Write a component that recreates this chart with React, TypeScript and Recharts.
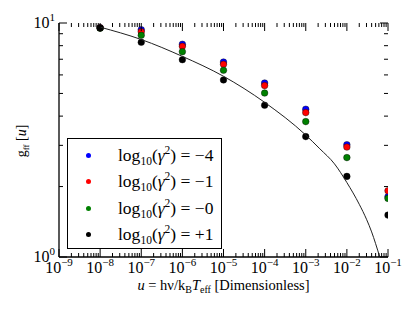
import { ComposedChart, Scatter, XAxis, YAxis, Legend } from "recharts"

// frequencies where the gaunt factor was sampled
const U = [1e-8, 1e-7, 1e-6, 1e-5, 1e-4, 1e-3, 1e-2, 1e-1]

// g_ff for each log10(gamma^2)
const gMinus4 = [9.55, 9.36, 8.11, 6.81, 5.54, 4.28, 3.02, 1.81]
const gMinus1 = [9.53, 9.18, 7.95, 6.66, 5.4, 4.14, 2.95, 1.92]
const gZero = [9.5, 8.86, 7.54, 6.28, 5.02, 3.79, 2.66, 1.78]
const gPlus1 = [9.52, 8.27, 6.97, 5.71, 4.45, 3.27, 2.21, 1.51]

// solid reference curve
const curveU = [1e-8, 1e-7, 1e-6, 1e-5, 1e-4, 1e-3, 2.2e-3, 5e-3, 1e-2, 2e-2, 3e-2, 4e-2, 5e-2, 5.6e-2, 6.3e-2]
const curveG = [9.6, 8.5, 7.2, 5.92, 4.58, 3.32, 2.9, 2.5, 2.08, 1.68, 1.45, 1.28, 1.14, 1.07, 1.0]

const xMajor = [1e-9, 1e-8, 1e-7, 1e-6, 1e-5, 1e-4, 1e-3, 1e-2, 1e-1]
const xExp = ["−9", "−8", "−7", "−6", "−5", "−4", "−3", "−2", "−1"]
const yTicks = [1, 2, 3, 4, 5, 6, 7, 8, 9, 10]

const seriesNames = ["−4", "−1", "−0", "+1"]
const seriesColors = ["#0000ff", "#ff0000", "#008000", "#000000"]
const seriesValues = [gMinus4, gMinus1, gZero, gPlus1]

const xTicks = [
  ...xMajor,
  ...xMajor.slice(0, -1).flatMap((d) => [2, 3, 4, 5, 6, 7, 8, 9].map((m) => d * m)),
]

const W = 415
const H = 312
const TOP = 23
const BOTTOM = 257
const LEFT = 59
const RIGHT = 388
const FONT = "'Liberation Serif', 'DejaVu Serif', serif"

const toPoints = (xs: number[], ys: number[]) => xs.map((u, i) => ({ u, g: ys[i] }))

function XTick(props: any) {
  const { x, payload } = props
  const idx = xMajor.indexOf(payload.value)
  const len = idx >= 0 ? 8 : 4
  return (
    <g>
      <line x1={x} x2={x} y1={BOTTOM} y2={BOTTOM - len} stroke="#000" strokeWidth={1} />
      <line x1={x} x2={x} y1={TOP} y2={TOP + len} stroke="#000" strokeWidth={1} />
      {idx >= 0 && (
        <text x={x} y={273} textAnchor="middle" fontFamily={FONT} fontSize={16} fill="#000">
          10
          <tspan dy={-7} fontSize={11}>
            {xExp[idx]}
          </tspan>
        </text>
      )}
    </g>
  )
}

function YTick(props: any) {
  const { y, payload } = props
  const v = payload.value
  const major = v === 1 || v === 10
  const len = major ? 8 : 4
  return (
    <g>
      <line x1={LEFT} x2={LEFT + len} y1={y} y2={y} stroke="#000" strokeWidth={1} />
      <line x1={RIGHT} x2={RIGHT - len} y1={y} y2={y} stroke="#000" strokeWidth={1} />
      {major && (
        <text x={55} y={y + 5} textAnchor="end" fontFamily={FONT} fontSize={16} fill="#000">
          10
          <tspan dy={-7} fontSize={11}>
            {v === 10 ? "1" : "0"}
          </tspan>
        </text>
      )}
    </g>
  )
}

function XLabel() {
  return (
    <text x={(LEFT + RIGHT) / 2} y={290} textAnchor="middle" fontFamily={FONT} fontSize={14.5} fill="#000">
      <tspan fontStyle="italic">u</tspan>
      <tspan> = hν/k</tspan>
      <tspan fontSize={10} dy={3}>B</tspan>
      <tspan fontStyle="italic" dy={-3}>T</tspan>
      <tspan fontSize={10} dy={3}>eff</tspan>
      <tspan dy={-3}> [Dimensionless]</tspan>
    </text>
  )
}

function YLabel() {
  return (
    <g>
      <defs>
        <clipPath id="plot-clip">
          <rect x={LEFT} y={TOP} width={RIGHT - LEFT} height={BOTTOM - TOP} />
        </clipPath>
      </defs>
      <text
        x={0}
        y={0}
        transform="translate(26,141) rotate(-90)"
        textAnchor="middle"
        fontFamily={FONT}
        fontSize={14}
        fill="#000"
      >
        <tspan>g</tspan>
        <tspan fontSize={9} dy={3}>ff</tspan>
        <tspan dy={-3}> [</tspan>
        <tspan fontStyle="italic">u</tspan>
        <tspan>]</tspan>
      </text>
    </g>
  )
}

function LegendBox() {
  return (
    <div
      style={{
        width: 155,
        height: 111,
        boxSizing: "border-box",
        border: "1px solid #000",
        background: "#fff",
        fontFamily: FONT,
        fontSize: 17.5,
        color: "#000",
        paddingTop: 3,
      }}
    >
      {seriesNames.map((n, i) => (
        <div key={n} style={{ display: "flex", alignItems: "center", height: 26.5 }}>
          <span
            style={{
              display: "inline-block",
              width: 5,
              height: 5,
              borderRadius: "50%",
              background: seriesColors[i],
              marginLeft: 18,
              marginRight: 27,
            }}
          />
          <span style={{ whiteSpace: "nowrap", lineHeight: "20px" }}>
            log<sub style={{ fontSize: 11.5, verticalAlign: -4 }}>10</sub>(<i>γ</i>
            <sup style={{ fontSize: 11.5, verticalAlign: 7 }}>2</sup>) = {n}
          </span>
        </div>
      ))}
    </div>
  )
}

const dot = (color: string) => (p: any) =>
  (
    <circle
      cx={p.cx}
      cy={p.cy}
      r={3.3}
      fill={color}
      stroke="#000"
      strokeWidth={0.4}
      clipPath="url(#plot-clip)"
    />
  )

export default function App() {
  return (
    <div style={{ position: "absolute", left: 0, top: 0, width: W, height: H, background: "#fff" }}>
      <ComposedChart width={W} height={H} margin={{ top: TOP, right: W - RIGHT, bottom: 0, left: 0 }}>
        <XAxis
          dataKey="u"
          type="number"
          scale="log"
          domain={[1e-9, 1e-1]}
          allowDataOverflow
          ticks={xTicks}
          interval={0}
          height={H - BOTTOM}
          tickLine={false}
          tick={<XTick />}
          axisLine={{ stroke: "#000", strokeWidth: 1.3 }}
          label={<XLabel />}
        />
        <XAxis
          xAxisId="top"
          orientation="top"
          type="number"
          scale="log"
          domain={[1e-9, 1e-1]}
          height={0}
          tick={false}
          tickLine={false}
          axisLine={{ stroke: "#000", strokeWidth: 1.3 }}
        />
        <YAxis
          dataKey="g"
          type="number"
          scale="log"
          domain={[1, 10]}
          allowDataOverflow
          ticks={yTicks}
          interval={0}
          width={LEFT}
          tickLine={false}
          tick={<YTick />}
          axisLine={{ stroke: "#000", strokeWidth: 1.3 }}
          label={<YLabel />}
        />
        <YAxis
          yAxisId="right"
          orientation="right"
          type="number"
          scale="log"
          domain={[1, 10]}
          width={0}
          tick={false}
          tickLine={false}
          axisLine={{ stroke: "#000", strokeWidth: 1.3 }}
        />
        {seriesNames.map((n, i) => (
          <Scatter
            key={n}
            name={n}
            data={toPoints(U, seriesValues[i])}
            fill={seriesColors[i]}
            isAnimationActive={false}
            shape={dot(seriesColors[i])}
          />
        ))}
        <Scatter
          name="curve"
          data={toPoints(curveU, curveG)}
          legendType="none"
          line={{ stroke: "#222", strokeWidth: 1 }}
          lineJointType="monotoneX"
          isAnimationActive={false}
          shape={() => <g />}
        />
        <Legend
          layout="vertical"
          align="center"
          verticalAlign="middle"
          content={<LegendBox />}
          wrapperStyle={{ position: "absolute", left: 67, top: 138, width: 155, height: 111 }}
        />
      </ComposedChart>
    </div>
  )
}
